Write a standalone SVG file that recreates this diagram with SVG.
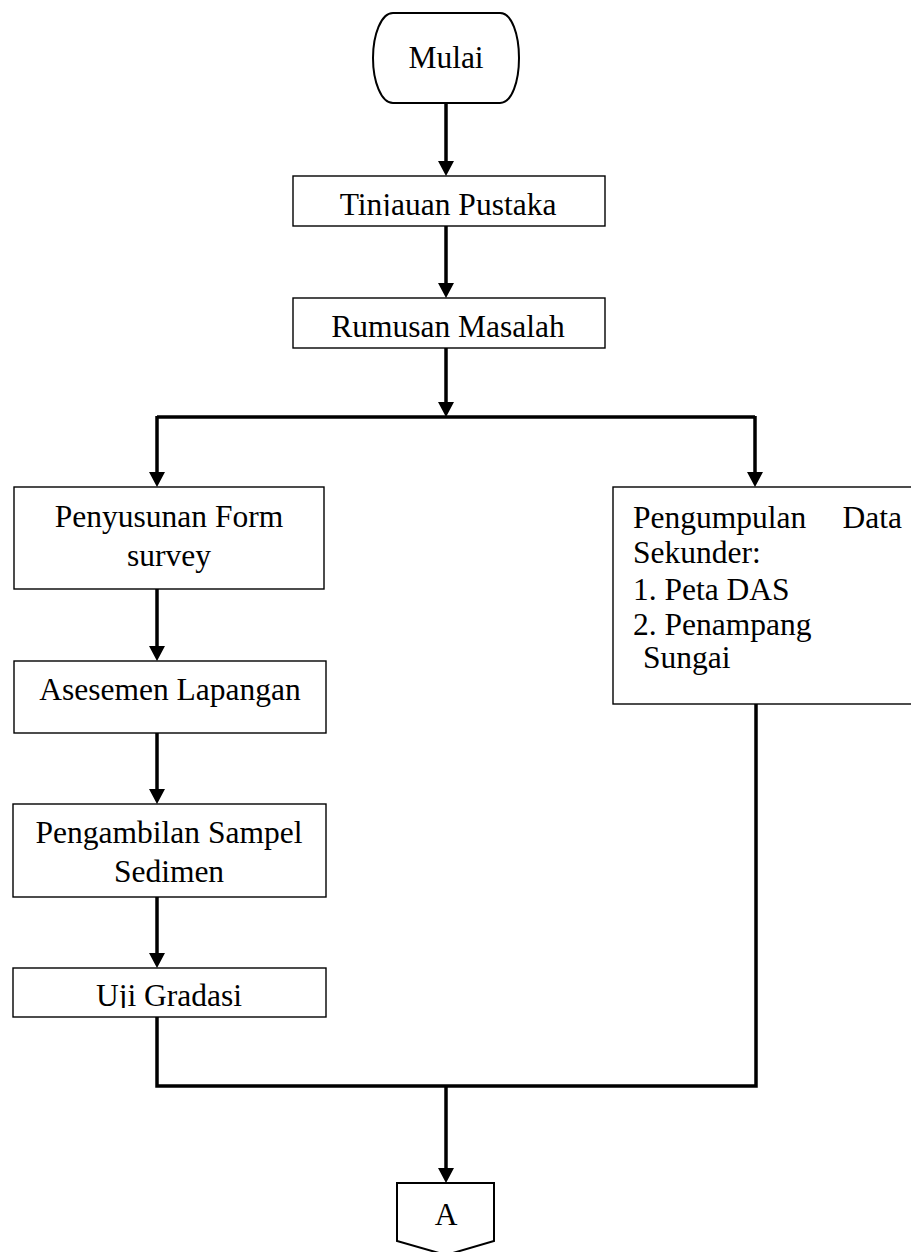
<svg xmlns="http://www.w3.org/2000/svg" width="911" height="1252" viewBox="0 0 911 1252">
<style>
  .box { fill: #fff; stroke: #000; stroke-width: 1.4; }
  .term { fill: #fff; stroke: #000; stroke-width: 2; }
  .t { font-family: "Liberation Serif", "Times New Roman", serif; font-size: 31.5px; fill: #000; }
  .c { text-anchor: middle; }
  .ln { fill: none; stroke: #000; stroke-width: 3.5; }
  .ar { fill: none; stroke: #000; stroke-width: 3.5; marker-end: url(#ah); }
</style>
<defs>
  <marker id="ah" markerUnits="userSpaceOnUse" markerWidth="16" markerHeight="16" viewBox="0 0 16 16" refX="2" refY="8" orient="auto">
    <path d="M0,0 L15,8 L0,16 Z" fill="#000"/>
  </marker>
  <clipPath id="clipT"><rect x="293" y="176" width="312" height="40"/></clipPath>
  <clipPath id="clipU"><rect x="14" y="968" width="312" height="40"/></clipPath>
</defs>
<rect width="911" height="1252" fill="#fff"/>

<g id="connectors">
  <path class="ar" d="M446,103 V163"/>
  <path class="ar" d="M446,226 V285"/>
  <path class="ar" d="M446,348 V404"/>
  <path class="ln" d="M157,417 H755"/>
  <path class="ar" d="M157,416 V474"/>
  <path class="ar" d="M755,416 V474"/>
  <path class="ar" d="M157,589 V648"/>
  <path class="ar" d="M157,733 V791"/>
  <path class="ar" d="M157,897 V955"/>
  <path class="ln" d="M157,1017 V1086 H756 V704"/>
  <path class="ar" d="M446,1086 V1170"/>
</g>

<g id="mulai">
  <path class="term" d="M393,13 H500 C512,13 519,35 519,58 C519,81 512,103 500,103 H393 C381,103 373,81 373,58 C373,35 381,13 393,13 Z"/>
  <text class="t c" x="446" y="68">Mulai</text>
</g>

<g id="tinjauan">
  <rect class="box" x="293" y="176" width="312" height="50"/>
  <text class="t c" x="448" y="215" clip-path="url(#clipT)">Tinjauan Pustaka</text>
</g>

<g id="rumusan">
  <rect class="box" x="293" y="298" width="312" height="50"/>
  <text class="t c" x="448" y="337">Rumusan Masalah</text>
</g>

<g id="penyusunan">
  <rect class="box" x="14" y="487" width="310" height="102"/>
  <text class="t c" x="169" y="527">Penyusunan Form</text>
  <text class="t c" x="169" y="566">survey</text>
</g>

<g id="asesemen">
  <rect class="box" x="14" y="661" width="312" height="72"/>
  <text class="t c" x="170" y="700">Asesemen Lapangan</text>
</g>

<g id="pengambilan">
  <rect class="box" x="13" y="804" width="313" height="93"/>
  <text class="t c" x="169" y="843">Pengambilan Sampel</text>
  <text class="t c" x="169" y="882">Sedimen</text>
</g>

<g id="uji">
  <rect class="box" x="13" y="968" width="313" height="49"/>
  <text class="t c" x="169" y="1006" clip-path="url(#clipU)">Uji Gradasi</text>
</g>

<g id="pengumpulan">
  <rect class="box" x="613" y="487" width="310" height="217"/>
  <text class="t" x="633" y="528">Pengumpulan</text>
  <text class="t" x="902" y="528" text-anchor="end">Data</text>
  <text class="t" x="633" y="563">Sekunder:</text>
  <text class="t" x="633" y="600">1. Peta DAS</text>
  <text class="t" x="633" y="635">2. Penampang</text>
  <text class="t" x="643" y="668">Sungai</text>
</g>

<g id="connector-a">
  <path class="term" d="M397,1183 H494 V1241 L446,1255 L397,1241 Z"/>
  <text class="t c" x="446" y="1225">A</text>
</g>
</svg>
